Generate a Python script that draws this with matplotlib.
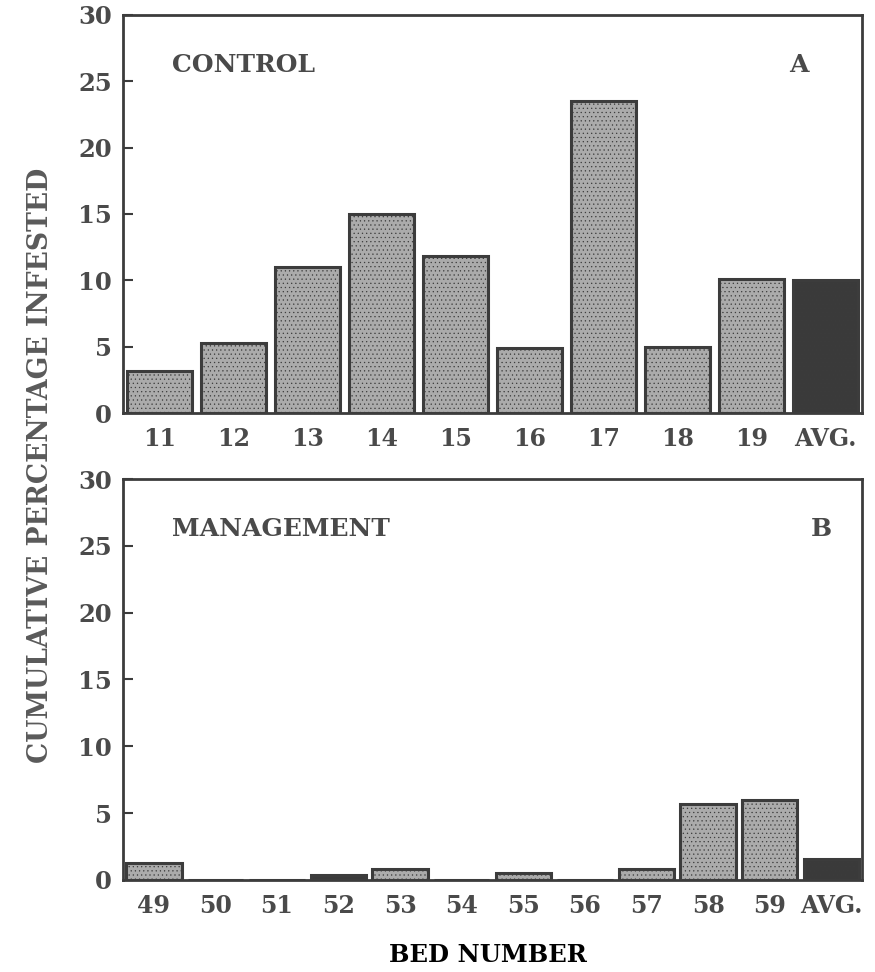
import matplotlib
matplotlib.use("Agg")
import matplotlib.pyplot as plt

# Data
control_beds = ["11", "12", "13", "14", "15", "16", "17", "18", "19", "AVG."]
control_vals = [3.2, 5.3, 11.0, 15.0, 11.8, 4.9, 23.5, 5.0, 10.1, 10.0]
manage_beds = ["49", "50", "51", "52", "53", "54", "55", "56", "57", "58", "59", "AVG."]
manage_vals = [1.3, 0.0, 0.0, 0.35, 0.8, 0.0, 0.5, 0.0, 0.8, 5.7, 6.0, 1.6]
yticks = [0, 5, 10, 15, 20, 25, 30]

LIGHT = "#ababab"
DARK = "#3a3a3a"
EDGE = "#3c3c3c"
TXT = "#4a4a4a"
FONT = ["DejaVu Serif"]

plt.rcParams["font.family"] = FONT
plt.rcParams["font.weight"] = "bold"

fig = plt.figure(figsize=(8.75, 9.72), dpi=100)
axA = fig.add_axes([0.1406, 0.5751, 0.8446, 0.4095])
axB = fig.add_axes([0.1406, 0.0947, 0.8446, 0.4125])


def draw(ax, cats, vals, width, dark_idx, title, letter, letter_x):
    x = list(range(len(cats)))
    colors = [DARK if i in dark_idx else LIGHT for i in x]
    ax.bar(x, vals, width=width, color=colors, edgecolor=EDGE, linewidth=2.2,
           hatch="....", zorder=2)
    ax.set_xlim(-0.5, len(cats) - 0.5)
    ax.set_ylim(0, 30)
    ax.set_yticks(yticks)
    ax.set_yticklabels([str(t) for t in yticks], fontsize=17.5, color=TXT,
                       fontweight="bold")
    ax.set_xticks(x)
    ax.set_xticklabels(cats, fontsize=17, color=TXT, fontweight="bold")
    ax.tick_params(axis="y", direction="in", length=7, width=1.5, color=EDGE, pad=8)
    ax.tick_params(axis="x", length=0, pad=10)
    for s in ax.spines.values():
        s.set_color(EDGE)
        s.set_linewidth(2)
    ax.text(0.066, 0.875, title, transform=ax.transAxes, fontsize=18,
            color=TXT, fontweight="bold", va="center", ha="left")
    ax.text(letter_x, 0.875, letter, transform=ax.transAxes, fontsize=18,
            color=TXT, fontweight="bold", va="center", ha="center")


plt.rcParams["hatch.color"] = "#8a8a8a"
plt.rcParams["hatch.linewidth"] = 0.4

draw(axA, control_beds, control_vals, 0.88, {9}, "CONTROL", "A", 0.915)
draw(axB, manage_beds, manage_vals, 0.9, {3, 11}, "MANAGEMENT", "B", 0.945)

fig.text(0.046, 0.5216, "CUMULATIVE PERCENTAGE INFESTED", rotation=90,
         fontsize=19.2, color="#5a5a5a", fontweight="bold", ha="center", va="center")
fig.text(0.558, 0.017, "BED NUMBER", fontsize=17.5, color="black",
         fontweight="bold", ha="center", va="center")

fig.savefig("out.png", dpi=100)
